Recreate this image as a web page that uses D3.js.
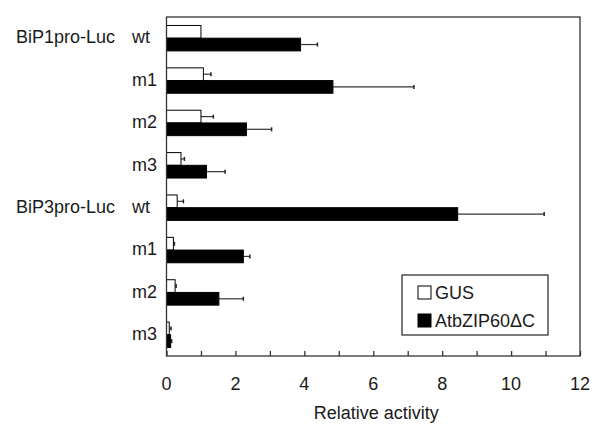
<!DOCTYPE html>
<html>
<head>
<meta charset="utf-8">
<script src="https://cdn.jsdelivr.net/npm/d3@7"></script>
<style>
  body { margin: 0; background: #fff; }
  text { font-family: Arial, "Liberation Sans", sans-serif; fill: #1a1a1a; }
</style>
</head>
<body>
<div id="chart"></div>
<script>
// data
var constructs = ['BiP1pro-Luc', '', '', '', 'BiP3pro-Luc', '', '', ''];
var variants = ['wt', 'm1', 'm2', 'm3', 'wt', 'm1', 'm2', 'm3'];
var gusValues = [1.0, 1.07, 1.0, 0.42, 0.31, 0.2, 0.25, 0.08];
var gusErrors = [0.0, 0.22, 0.36, 0.1, 0.18, 0.03, 0.03, 0.05];
var zipValues = [3.89, 4.83, 2.32, 1.16, 8.45, 2.23, 1.52, 0.12];
var zipErrors = [0.49, 2.35, 0.73, 0.54, 2.51, 0.19, 0.71, 0.03];
var xTicks = [0, 2, 4, 6, 8, 10, 12];
var seriesNames = ['GUS', 'AtbZIP60\u0394C'];

var width = 594, height = 424;
var margin = { top: 17, right: 14, bottom: 68, left: 166.5 };
var fontSize = '18px';

var svg = d3.select('#chart').append('svg')
  .attr('width', width)
  .attr('height', height);

var x = d3.scaleLinear().domain([0, 12]).range([margin.left, width - margin.right]);
var y = d3.scaleBand()
  .domain(d3.range(variants.length))
  .range([margin.top, height - margin.bottom])
  .paddingInner(0.4)
  .paddingOuter(0.2);
var sub = d3.scaleBand().domain([0, 1]).range([0, y.bandwidth()]);

var rows = variants.map(function(v, i) {
  return { i: i, vals: [
    { s: 0, v: gusValues[i], e: gusErrors[i] },
    { s: 1, v: zipValues[i], e: zipErrors[i] }
  ] };
});

var groups = svg.selectAll('g.row')
  .data(rows)
  .enter().append('g')
  .attr('class', 'row')
  .attr('transform', function(d) { return 'translate(0,' + y(d.i) + ')'; });

var bars = groups.selectAll('g.bar')
  .data(function(d) { return d.vals; })
  .enter().append('g')
  .attr('class', 'bar');

// error bars (drawn first so the bars sit over them)
bars.filter(function(d) { return d.e > 0; })
  .append('line')
  .attr('x1', function(d) { return x(d.v); })
  .attr('x2', function(d) { return x(d.v + d.e); })
  .attr('y1', function(d) { return sub(d.s) + sub.bandwidth() / 2; })
  .attr('y2', function(d) { return sub(d.s) + sub.bandwidth() / 2; })
  .attr('stroke', '#333')
  .attr('stroke-width', 1.2);
bars.filter(function(d) { return d.e > 0; })
  .append('line')
  .attr('x1', function(d) { return x(d.v + d.e); })
  .attr('x2', function(d) { return x(d.v + d.e); })
  .attr('y1', function(d) { return sub(d.s) + sub.bandwidth() / 2 - 2; })
  .attr('y2', function(d) { return sub(d.s) + sub.bandwidth() / 2 + 2; })
  .attr('stroke', '#222')
  .attr('stroke-width', 1.5);

bars.append('rect')
  .attr('x', x(0))
  .attr('y', function(d) { return sub(d.s); })
  .attr('width', function(d) { return x(d.v) - x(0); })
  .attr('height', sub.bandwidth())
  .attr('fill', function(d) { return d.s === 0 ? '#fff' : '#000'; })
  .attr('stroke', '#000')
  .attr('stroke-width', 1);

// frame
svg.append('rect')
  .attr('x', x(0))
  .attr('y', margin.top)
  .attr('width', x(12) - x(0))
  .attr('height', height - margin.bottom - margin.top)
  .attr('fill', 'none')
  .attr('stroke', '#333')
  .attr('stroke-width', 1.3);

// x axis, ticks pointing inward
var axis = svg.append('g')
  .attr('transform', 'translate(0,' + (height - margin.bottom) + ')')
  .call(d3.axisBottom(x).ticks(12).tickSizeInner(-5).tickSizeOuter(0).tickFormat(''));
axis.select('.domain').remove();
axis.selectAll('line').attr('stroke', '#333').attr('stroke-width', 1.3);

svg.selectAll('text.xtick')
  .data(xTicks)
  .enter().append('text')
  .attr('class', 'xtick')
  .attr('x', function(d) { return x(d); })
  .attr('y', height - margin.bottom + 34)
  .attr('text-anchor', 'middle')
  .style('font-size', fontSize)
  .text(function(d) { return d; });

svg.append('text')
  .attr('x', (x(0) + x(12)) / 2 + 3)
  .attr('y', 419)
  .attr('text-anchor', 'middle')
  .style('font-size', fontSize)
  .text('Relative activity');

// row labels
svg.selectAll('text.variant')
  .data(variants)
  .enter().append('text')
  .attr('class', 'variant')
  .attr('x', 132)
  .attr('y', function(d, i) { return y(i) + y.bandwidth() / 2 - 1; })
  .attr('dy', '0.35em')
  .style('font-size', fontSize)
  .text(function(d) { return d; });

svg.selectAll('text.construct')
  .data(constructs)
  .enter().append('text')
  .attr('class', 'construct')
  .attr('x', 16)
  .attr('y', function(d, i) { return y(i) + y.bandwidth() / 2 - 1; })
  .attr('dy', '0.35em')
  .style('font-size', fontSize)
  .text(function(d) { return d; });

// legend
var legend = svg.append('g').attr('transform', 'translate(402,275)');
legend.append('rect')
  .attr('width', 146).attr('height', 60)
  .attr('fill', '#fff').attr('stroke', '#333').attr('stroke-width', 1.3);
var items = legend.selectAll('g.item')
  .data(seriesNames)
  .enter().append('g')
  .attr('class', 'item')
  .attr('transform', function(d, i) { return 'translate(16,' + (11 + i * 28) + ')'; });
items.append('rect')
  .attr('width', 13).attr('height', 13)
  .attr('fill', function(d, i) { return i === 0 ? '#fff' : '#000'; })
  .attr('stroke', '#000');
items.append('text')
  .attr('x', 17)
  .attr('y', 7)
  .attr('dy', '0.35em')
  .style('font-size', fontSize)
  .text(function(d) { return d; });
</script>
</body>
</html>
